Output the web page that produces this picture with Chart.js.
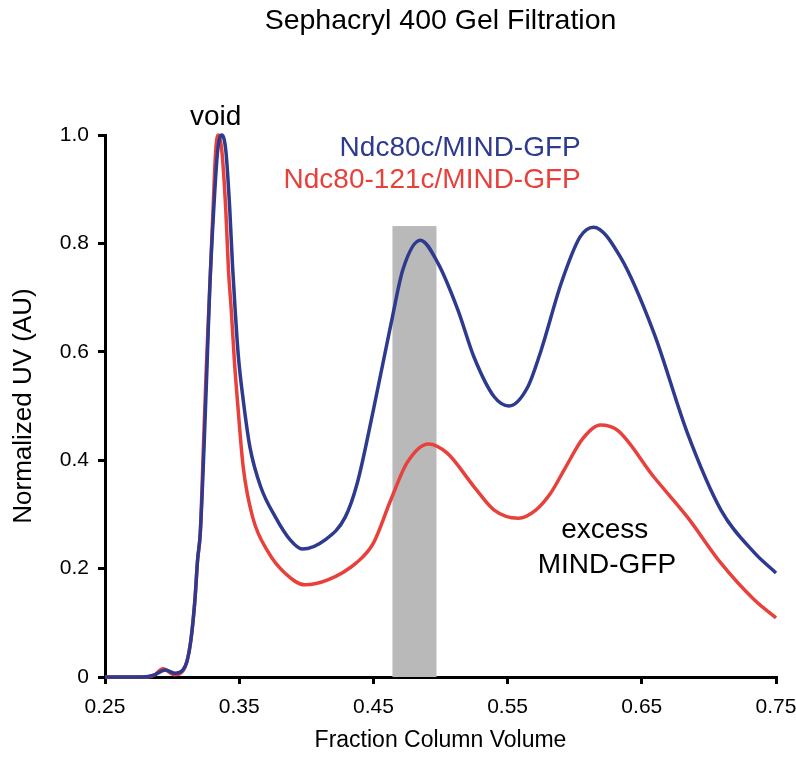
<!DOCTYPE html>
<html>
<head>
<meta charset="utf-8">
<script src="https://cdn.jsdelivr.net/npm/chart.js@4/dist/chart.umd.min.js"></script>
<style>
  html, body { margin: 0; padding: 0; background: #fff; }
  #wrap { width: 796px; height: 773px; position: relative; }
</style>
</head>
<body>
<div id="wrap"><canvas id="c"></canvas></div>
<script>
// ---- data ----
const blueX = [0.250,0.278,0.287,0.295,0.302,0.308,0.311,0.314,0.317,0.319,0.321,0.324,0.326,0.328,0.331,0.334,0.337,0.340,0.343,0.345,0.347,0.3493,0.353,0.358,0.366,0.377,0.388,0.397,0.414,0.429,0.438,0.450,0.463,0.472,0.485,0.498,0.513,0.525,0.540,0.551,0.565,0.575,0.590,0.604,0.614,0.634,0.659,0.684,0.709,0.734,0.750];
const blueY = [0,0,0.004,0.013,0.007,0.013,0.028,0.068,0.142,0.216,0.266,0.437,0.572,0.714,0.862,0.972,1.0,0.972,0.862,0.760,0.677,0.594,0.511,0.424,0.351,0.295,0.253,0.236,0.253,0.295,0.358,0.493,0.650,0.752,0.806,0.764,0.677,0.590,0.517,0.500,0.535,0.603,0.727,0.812,0.830,0.775,0.635,0.450,0.308,0.229,0.192];
const redX = [0.250,0.281,0.287,0.293,0.302,0.308,0.311,0.314,0.317,0.319,0.321,0.3235,0.3255,0.328,0.3305,0.3325,0.3345,0.337,0.340,0.342,0.344,0.3465,0.349,0.353,0.360,0.372,0.384,0.399,0.416,0.437,0.450,0.463,0.475,0.491,0.505,0.525,0.540,0.558,0.571,0.582,0.593,0.606,0.619,0.632,0.659,0.684,0.709,0.734,0.750];
const redY = [0,0,0.004,0.015,0.004,0.011,0.028,0.068,0.142,0.216,0.266,0.437,0.572,0.714,0.862,0.972,1.0,0.972,0.862,0.751,0.680,0.580,0.500,0.387,0.295,0.229,0.192,0.170,0.179,0.210,0.247,0.327,0.395,0.430,0.413,0.351,0.308,0.293,0.308,0.339,0.386,0.440,0.465,0.455,0.369,0.295,0.210,0.142,0.109];
const seriesNames = ['Ndc80c/MIND-GFP', 'Ndc80-121c/MIND-GFP'];
const xTickValues = [0.25,0.35,0.45,0.55,0.65,0.75];
const xTickLabels = ['0.25','0.35','0.45','0.55','0.65','0.75'];
const yTickValues = [0,0.2,0.4,0.6,0.8,1.0];
const yTickLabels = ['0','0.2','0.4','0.6','0.8','1.0'];
const bandRange = [0.4642, 0.497];   // highlighted fraction range
const bandTop = 0.832;

// ---- styling / layout ----
const BLUE = '#2e3a8e';
const RED = '#e8413b';
const FONT = '"Liberation Sans", Arial, Helvetica, sans-serif';
const titleText = 'Sephacryl 400 Gel Filtration';
const annotations = [
  { text: 'void', x: 0.3325, y: 1.018, align: 'center', color: '#000' },
  { text: seriesNames[0], x: 0.6045, y: 0.961, align: 'right', color: BLUE },
  { text: seriesNames[1], x: 0.6045, y: 0.902, align: 'right', color: RED },
  { text: 'excess', x: 0.6224, y: 0.256, align: 'center', color: '#000' },
  { text: 'MIND-GFP', x: 0.624, y: 0.192, align: 'center', color: '#000' }
];

const toPts = (xs, ys) => xs.map((x, i) => ({ x: x, y: ys[i] }));

const bandPlugin = {
  id: 'band',
  beforeDatasetsDraw(chart) {
    const { ctx, scales: { x, y } } = chart;
    const x0 = x.getPixelForValue(bandRange[0]);
    const x1 = x.getPixelForValue(bandRange[1]);
    const yt = y.getPixelForValue(bandTop);
    const yb = y.getPixelForValue(0);
    ctx.save();
    ctx.fillStyle = '#b9b9b9';
    ctx.fillRect(x0, yt, x1 - x0, yb - yt);
    ctx.restore();
  }
};

const textPlugin = {
  id: 'texts',
  afterDraw(chart) {
    const { ctx, chartArea, scales: { x, y } } = chart;
    ctx.save();
    ctx.textBaseline = 'alphabetic';
    ctx.font = '28.5px ' + FONT;
    ctx.fillStyle = '#000';
    ctx.textAlign = 'center';
    ctx.fillText(titleText, (chartArea.left + chartArea.right) / 2, 29);
    annotations.forEach(a => {
      ctx.fillStyle = a.color;
      ctx.textAlign = a.align;
      ctx.font = '28px ' + FONT;
      ctx.fillText(a.text, x.getPixelForValue(a.x), y.getPixelForValue(a.y));
    });
    ctx.restore();
  }
};

new Chart(document.getElementById('c'), {
  type: 'line',
  data: {
    datasets: [
      { label: seriesNames[0], data: toPts(blueX, blueY), borderColor: BLUE, borderWidth: 3.5,
        pointRadius: 0, tension: 0.4, cubicInterpolationMode: 'monotone', fill: false, clip: false },
      { label: seriesNames[1], data: toPts(redX, redY), borderColor: RED, borderWidth: 3.5,
        pointRadius: 0, tension: 0.4, cubicInterpolationMode: 'monotone', fill: false, clip: false }
    ]
  },
  options: {
    responsive: true,
    maintainAspectRatio: false,
    animation: false,
    events: [],
    layout: { padding: { top: 135, left: 0, right: 20, bottom: 0 } },
    plugins: { legend: { display: false }, title: { display: false }, tooltip: { enabled: false } },
    scales: {
      x: {
        type: 'linear', min: 0.25, max: 0.75,
        afterBuildTicks: s => { s.ticks = xTickValues.map(v => ({ value: v })); },
        afterFit: s => { s.height = 96; s.paddingRight = 0; s.paddingLeft = 0; },
        ticks: { callback: (v, i) => xTickLabels[i], color: '#000', padding: 11, maxRotation: 0,
                 font: { family: FONT, size: 21 } },
        grid: { drawOnChartArea: false, drawTicks: true, tickLength: 7, color: '#000', lineWidth: 3 },
        border: { display: true, color: '#000', width: 3 },
        title: { display: true, text: 'Fraction Column Volume', color: '#000',
                 font: { family: FONT, size: 23 }, padding: { top: 0, bottom: 19 } }
      },
      y: {
        type: 'linear', min: 0, max: 1,
        afterBuildTicks: s => { s.ticks = yTickValues.map(v => ({ value: v })); },
        afterFit: s => { s.width = 105; s.paddingTop = 0; s.paddingBottom = 0; },
        ticks: { callback: (v, i) => yTickLabels[i], color: '#000', padding: 9,
                 font: { family: FONT, size: 21 } },
        grid: { drawOnChartArea: false, drawTicks: true, tickLength: 7, color: '#000', lineWidth: 3 },
        border: { display: true, color: '#000', width: 3 },
        title: { display: true, text: 'Normalized UV (AU)', color: '#000',
                 font: { family: FONT, size: 26 }, padding: { top: 8, bottom: 0 } }
      }
    }
  },
  plugins: [bandPlugin, textPlugin]
});
</script>
</body>
</html>
